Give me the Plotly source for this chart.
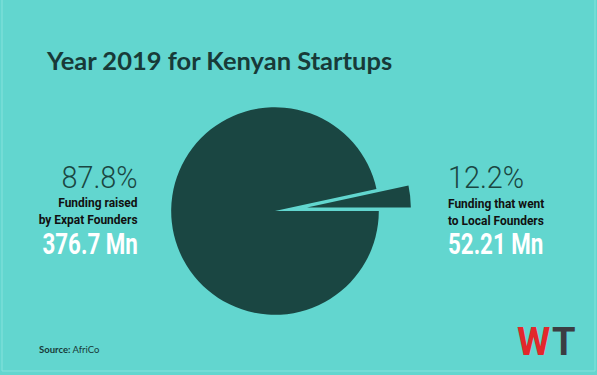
import plotly.graph_objects as go

# ---- data ----
categories = ["Funding raised by Expat Founders", "Funding that went to Local Founders"]
share_labels = ["87.8%", "12.2%"]
amounts = ["376.7 Mn", "52.21 Mn"]
# slice sizes as drawn in the source graphic (small wedge ~12 deg)
drawn_share = [96.6, 3.4]
pulls = [0.0, 0.31]

title = "Year 2019 for Kenyan Startups"
source = "AfriCo"

BG = "#62d6cf"
DARK = "#1a4642"
W, H = 597, 375
COND = "Roboto, sans-serif"

CX, CY, BOX = 275, 211, 136  # pie box centre / half-size in px

fig = go.Figure(go.Pie(
    labels=categories,
    values=drawn_share,
    pull=pulls,
    sort=False,
    direction="clockwise",
    rotation=90,
    marker=dict(colors=[DARK, DARK], line=dict(width=0)),
    textinfo="none",
    hoverinfo="label",
    showlegend=False,
    domain=dict(x=[(CX - BOX) / W, (CX + BOX) / W], y=[(H - CY - BOX) / H, (H - CY + BOX) / H]),
))

def px(x):
    return x / W

def py(y):
    return 1 - y / H

ann = []
ann.append(dict(x=px(44), y=py(60), text=f"<b>{title}</b>", xanchor="left", yanchor="middle",
                font=dict(family="Lato, sans-serif", size=25.5, color="#183a38", weight=900), showarrow=False))
# left block
ann.append(dict(x=px(140), y=py(177), text=share_labels[0], xanchor="right", yanchor="middle",
                font=dict(family=COND, size=32, color=DARK, weight=300), showarrow=False))
ann.append(dict(x=px(140), y=py(211), text="<b>Funding raised<br>by Expat Founders</b>", xanchor="right",
                yanchor="middle", align="right",
                font=dict(family=COND, size=13, color="#111"), showarrow=False))
ann.append(dict(x=px(140), y=py(244), text=f"<b>{amounts[0]}</b>", xanchor="right", yanchor="middle",
                font=dict(family=COND, size=29, color="white"), showarrow=False))
# right block
ann.append(dict(x=px(446), y=py(177), text=share_labels[1], xanchor="left", yanchor="middle",
                font=dict(family=COND, size=32, color=DARK, weight=300), showarrow=False))
ann.append(dict(x=px(446), y=py(212), text="<b>Funding that went<br>to Local Founders</b>", xanchor="left",
                yanchor="middle", align="left",
                font=dict(family=COND, size=13, color="#111"), showarrow=False))
ann.append(dict(x=px(446), y=py(244), text=f"<b>{amounts[1]}</b>", xanchor="left", yanchor="middle",
                font=dict(family=COND, size=29, color="white"), showarrow=False))
# source
ann.append(dict(x=px(37), y=py(349), text=f"<b>Source:</b> {source}", xanchor="left", yanchor="middle",
                font=dict(family="Lato, sans-serif", size=9.5, color="#183a38"), showarrow=False))
# logo
ann.append(dict(x=px(515), y=py(342), text="<b>W</b>", xanchor="left", yanchor="middle",
                font=dict(family="Roboto, sans-serif", size=38, color="#e3272b", weight=900), showarrow=False))
ann.append(dict(x=px(550), y=py(342), text="<b>T</b>", xanchor="left", yanchor="middle",
                font=dict(family="Roboto, sans-serif", size=38, color="#3b3d42", weight=900), showarrow=False))

fig.update_layout(
    width=W, height=H,
    margin=dict(l=0, r=0, t=0, b=0),
    paper_bgcolor=BG, plot_bgcolor=BG,
    annotations=ann,
    shapes=[dict(type="rect", xref="paper", yref="paper", x0=px(2), x1=px(595), y0=py(371), y1=1.01,
                 line=dict(color="#86e2dc", width=1))],
)

post = """
document.body.style.margin = '0';
document.body.style.overflow = 'hidden';
var gd = document.getElementById('{plot_id}');
var cfg = {'87.8%': [0.9, 'right'], '12.2%': [0.9, 'left'],
           '376.7 Mn': [0.77, 'right'], '52.21 Mn': [0.77, 'left'],
           'Funding raisedby Expat Founders': [0.92, 'right'],
           'Funding that wentto Local Founders': [0.92, 'left']};
gd.querySelectorAll('text.annotation-text').forEach(function (t) {
  var c = cfg[t.textContent];
  if (c) {
    t.style.transformBox = 'fill-box';
    t.style.transformOrigin = c[1] + ' center';
    t.style.transform = 'scaleX(' + c[0] + ')';
  }
});
"""

fig.write_html("out.html", post_script=post, config={"displayModeBar": False})
